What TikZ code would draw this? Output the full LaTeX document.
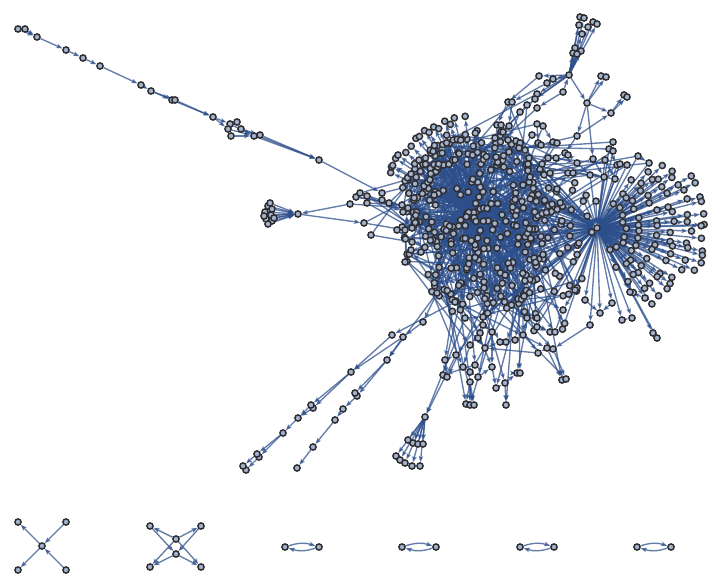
\documentclass[tikz,border=0pt]{standalone}
\usetikzlibrary{arrows.meta}
\definecolor{ec}{RGB}{44,78,138}
\definecolor{nf}{RGB}{164,180,206}
\definecolor{nd}{RGB}{48,48,52}
\pgfdeclarelayer{bg}
\pgfsetlayers{bg,main}
\tikzset{
  vx/.style={circle,inner sep=0pt,minimum size=6.2pt,fill=nf,draw=nd,line width=1.5pt},
  ed/.style={draw=ec,opacity=.74,line width=1.35pt,-{Stealth[length=6pt,width=4.4pt,inset=1.2pt]}},
}
\begin{document}
\begin{tikzpicture}[x=1pt,y=-1pt]
\useasboundingbox (0,0) rectangle (720,588);
\pgfmathsetseed{4242}
% ---------- hubs
\node[vx] (A) at (476,212) {};
\node[vx] (R) at (597,228) {};
% ---------- core (quadrants: 1-65 UL, 66-130 UR, 131-195 LR, 196-260 LL)
\foreach \i in {1,...,260}{
  \pgfmathtruncatemacro\qd{floor((\i-1)/65)}
  \pgfmathsetmacro\ang{180+90*\qd+90*rnd}
  \pgfmathsetmacro\rd{sqrt(rnd)}
  \node[vx] (m\i) at ({478+80*\rd*cos(\ang)},{222+95*\rd*sin(\ang)}) {};
}
% ---------- crescent fan round A
\foreach \RR/\NN/\AA/\BB/\KK in {58/14/200/272/1, 76/17/198/268/2, 94/17/203/262/3}{
  \foreach \j in {1,...,\NN}{
    \pgfmathsetmacro\ang{\AA+(\BB-\AA)*(\j-1)/(\NN-1)+4*(rnd-0.5)}
    \pgfmathsetmacro\rr{\RR+6*(rnd-0.5)}
    \node[vx] (cf\KK-\j) at ({476+\rr*cos(\ang)},{212+\rr*sin(\ang)}) {};
  }
}
% ---------- right fan round R
\foreach \RR/\NN/\AA/\BB/\KK in {28/9/-55/60/1, 44/13/-55/62/2, 60/16/-55/62/3, 76/18/-50/60/4, 92/18/-45/55/5, 107/12/-28/25/6}{
  \foreach \j in {1,...,\NN}{
    \pgfmathsetmacro\ang{\AA+(\BB-\AA)*(\j-1)/(\NN-1)+5*(rnd-0.5)}
    \pgfmathsetmacro\rr{\RR+6*(rnd-0.5)}
    \node[vx] (rf\KK-\j) at ({597+\rr*cos(\ang)},{228+\rr*sin(\ang)}) {};
  }
}
% ---------- middle region between core and R
\foreach \i in {1,...,55}{
  \node[vx] (q\i) at ({522+75*rnd},{182+150*rnd}) {};
}
% ---------- explicit nodes
\foreach \nm/\px/\py in {
 t1/18/29, t2/25/29, t3/37/37, t4/66/50, t5/83/58, t6/100/66, t7/141/85, t8/151/91,
 t9/172/100, t10/175/100, t11/213/117, t12/230/124, t13/237/122, t14/228/129, t15/241/129,
 t16/231/136, t17/254/136, t18/260/135, t19/319/160,
 lh/298/214, l1/268/206, l2/272/209, l3/265/212, l4/271/215, l5/266/219, l6/272/221,
 l7/268/224, l8/264/216, l9/270/203, l10/274/218,
 f1/350/204, f2/356/197, f3/360/193, f4/367/196, f5/367/203, f6/382/193, f7/382/200,
 f8/389/203, f9/402/205, f10/403/212, f11/397/230, f12/405/230, f13/371/235, f14/412/228,
 f15/412/242, f16/411/250, f17/364/223, f18/405/262,
 a1/423/322, a2/403/337, a3/392/335, a4/351/372, a5/313/408, a5b/311/405, a6/298/418,
 a7/283/433, a8/259/457, a8b/257/454, a9/246/470, a9b/243/466,
 b1/387/360, b2/357/396, b2b/355/393, b3/343/409, b4/335/420, b5/313/447, b6/297/468,
 sh/425/417, s1/408/440, s2/413/443, s3/418/444, s4/423/444, s5/396/456, s6/400/460,
 s7/405/463, s8/412/466, s9/420/466,
 lo1/437/293, lo2/455/302, lo3/465/318, lo4/483/317, lo5/483/325, lo6/492/332, lo7/480/333,
 lo8/478/338, lo9/470/345, lo10/485/348, lo11/500/342, lo12/506/342, lo13/515/340,
 lo14/523/335, lo15/527/318, lo16/537/318, lo17/537/327, lo18/550/332, lo19/555/332,
 lo20/563/310, lo21/547/348, lo22/553/349, lo23/538/353, lo24/463/367, lo25/470/372,
 lo26/478/377, lo27/492/367, lo28/470/382, lo29/496/388, lo30/505/383, lo31/517/373,
 lo32/520/373, lo33/466/404, lo34/470/405, lo35/474/405, lo36/506/405, lo37/562/380,
 lo38/566/379, lo39/475/365, lo40/445/360, lo41/443/375, lo42/447/377, lo43/456/355,
 lo44/585/300, lo45/600/313, lo46/575/290, lo47/622/320, lo48/632/318, lo49/653/333,
 lo50/657/338, lo51/645/298, lo52/630/292, lo53/612/303, lo54/590/325,
 sph/569/75, sp1/580/17, sp2/584/18, sp3/593/22, sp4/597/24, sp5/579/25, sp6/588/27,
 sp7/582/34, sp8/575/48, sp9/581/51, sp10/573/53, sp11/577/54, sp12/539/76, sp13/547/83,
 sp14/553/79, sp15/563/92, sp16/601/76, sp17/606/77, sph2/587/103, sp18/624/95,
 sp19/627/97, sp20/611/113,
 u1/508/102, u2/512/102, u3/537/94, u4/535/99, u5/527/105, u6/537/108, u7/520/112,
 u8/497/125, u9/501/125, u10/509/126, u11/503/132, u12/495/138, u13/537/124, u14/543/126,
 u15/532/135, u16/577/136, u17/613/142, u18/508/140, u19/516/141, u20/520/143, u21/509/152,
 u22/519/148, u23/538/143, u24/541/145, u25/553/142, u26/557/143, u27/565/153, u28/568/155,
 u29/609/149, u30/613/151, u31/638/156, u32/649/163, u33/529/158, u34/528/164, u35/542/164,
 u36/548/158, u37/556/158, u38/577/163, u39/593/159, u40/605/160, u41/617/165, u42/620/164,
 u43/627/165, u44/604/177, u45/615/179, u46/590/175, u47/550/173, u48/530/177, u49/523/185,
 u50/557/189, u51/568/173, u52/573/173,
 bs0/42/546, bs1/18/522, bs2/66/522, bs3/18/570, bs4/66/570,
 bx1/150/526, bx2/201/526, bx3/150/567, bx4/201/567, bm1/176/539, bm2/176/554,
 c1a/285/547, c1b/319/547, c2a/402/547, c2b/436/547, c3a/520/547, c3b/554/547,
 c4a/637/547, c4b/671/547}{
  \node[vx] (\nm) at (\px,\py) {};
}
% ================= connectors
\begin{pgfonlayer}{bg}
% core internal
\foreach \i in {1,...,260}{
  \pgfmathtruncatemacro\j{mod(\i+random(1,259)-1,260)+1}
  \draw[ed] (m\i) -- (m\j);
}
\foreach \i in {1,3,...,259}{ \draw[ed] (A) -- (m\i); }
\foreach \i in {68,72,...,130,134,138,...,195}{ \draw[ed] (m\i) -- (R); }
% crescent
\foreach \NN/\KK in {14/1, 17/2, 17/3}{
  \foreach \j in {1,...,\NN}{ \draw[ed] (A) -- (cf\KK-\j); }
}
% right fan
\foreach \NN/\KK in {9/1, 13/2, 16/3, 18/4, 18/5, 12/6}{
  \foreach \j in {1,...,\NN}{ \draw[ed] (R) -- (rf\KK-\j); }
}
% middle region
\foreach \i in {1,...,55}{
  \pgfmathtruncatemacro\j{random(66,195)}
  \draw[ed] (q\i) -- (m\j);
}
\foreach \i in {1,3,...,55}{ \draw[ed] (q\i) -- (R); }
% upper region to core
\foreach \i in {1,...,52}{
  \pgfmathtruncatemacro\j{random(1,130)}
  \draw[ed] (u\i) -- (m\j);
}
% lower region to core
\foreach \i in {1,...,43}{
  \pgfmathtruncatemacro\j{random(131,260)}
  \draw[ed] (m\j) -- (lo\i);
}
% fringe to core
\foreach \i in {1,...,18}{
  \pgfmathtruncatemacro\j{random(1,130)}
  \pgfmathtruncatemacro\j{\j>65 ? \j+130 : \j}
  \draw[ed] (f\i) -- (m\j);
}
% explicit connectors
\foreach \s/\t in {
 t1/t3, t2/t3, t3/t4, t4/t5, t5/t6, t6/t7, t7/t8, t8/t9, t8/t10, t9/t11, t10/t11,
 t11/t12, t11/t14, t12/t17, t13/t15, t14/t17, t15/t18, t16/t17, t12/t16, t17/t19,
 t18/t19, t15/t19, t19/f6,
 l1/lh, l2/lh, l3/lh, l4/lh, l5/lh, l6/lh, l7/lh, l8/lh, l9/lh, l10/lh, f1/lh, lh/f17,
 f2/f9, f3/f8, f4/f10, f5/f9, f7/f14, f11/f15, f13/f15, f16/f18, f17/f12,
 lo1/a1, lo2/a3, a1/a2, a2/a4, a3/a4, a4/a5, a4/a5b, a5/a6, a5b/a6, a6/a7, a7/a8,
 a7/a8b, a8/a9, a8b/a9b, a2/b1,
 lo1/b1, b1/b2, b1/b2b, b2/b3, b3/b4, b4/b5, b5/b6,
 lo43/sh, lo3/sh, sh/s1, sh/s2, sh/s3, sh/s4, sh/s5, sh/s6, sh/s7, sh/s8, sh/s9,
 lo28/lo33, lo28/lo34, lo28/lo35, lo30/lo36, lo21/lo37, lo22/lo38,
 lo1/lo2, lo2/lo3, lo3/lo4, lo4/lo5, lo5/lo6, lo7/lo9, lo8/lo10, lo9/lo24, lo24/lo25,
 lo25/lo26, lo26/lo27, lo27/lo29, lo29/lo30, lo30/lo31, lo31/lo32, lo10/lo11, lo11/lo12,
 lo12/lo13, lo13/lo14, lo14/lo15, lo15/lo16, lo16/lo17, lo17/lo18, lo18/lo19, lo19/lo20,
 lo21/lo23, lo23/lo10, lo39/lo41, lo40/lo42, lo41/lo42, lo40/lo43, lo6/lo27, lo44/lo45,
 lo46/lo20, lo47/lo48, lo49/lo50, lo51/lo52, lo53/lo45, lo54/lo22,
 R/lo44, R/lo45, R/lo46, R/lo47, R/lo48, R/lo49, R/lo50, R/lo51, R/lo52, R/lo53, R/lo54,
 sph/sp1, sph/sp2, sph/sp3, sph/sp4, sph/sp5, sph/sp6, sph/sp7, sph/sp8, sph/sp9,
 sph/sp10, sph/sp11, sph/sp12, sph/sp13, sph/sp14, sp15/sph, sph/sph2, sph2/sp16,
 sph2/sp17, sp20/sp18, sp20/sp19, sph2/sp20, u16/sp20, sph/u3, sph/u4, sp15/u6,
 sph2/u39, sph2/u16, sph/u5, sp12/u1, sp13/u2,
 u1/u8, u2/u10, u5/u7, u7/u18, u13/u23, u14/u25, u16/u27, u17/u29, u17/u30, u31/u32,
 u29/u41, u33/u34, u35/u36, u37/u38, u38/u46, u39/u44, u40/u45, u42/u43, u47/u48,
 u49/u48, u50/u51, u52/u44, u11/u12, u19/u20, u21/u22, u24/u26, u28/u27,
 u31/R, u32/R, u41/R, u42/R, u43/R, u29/R, u30/R, u40/R, u45/R, u44/R, u46/R,
 bs0/bs1, bs2/bs0, bs0/bs3, bs4/bs0,
 bm1/bx1, bm1/bx2, bm2/bx3, bm2/bx4, bx1/bm2, bx2/bm2, bm1/bx3, bm1/bx4}{
  \draw[ed] (\s) -- (\t);
}
\foreach \s/\t in {c1a/c1b, c1b/c1a, c2a/c2b, c2b/c2a, c3a/c3b, c3b/c3a, c4a/c4b, c4b/c4a}{
  \draw[ed] (\s) to[bend left=18] (\t);
}
\end{pgfonlayer}
\end{tikzpicture}
\end{document}
